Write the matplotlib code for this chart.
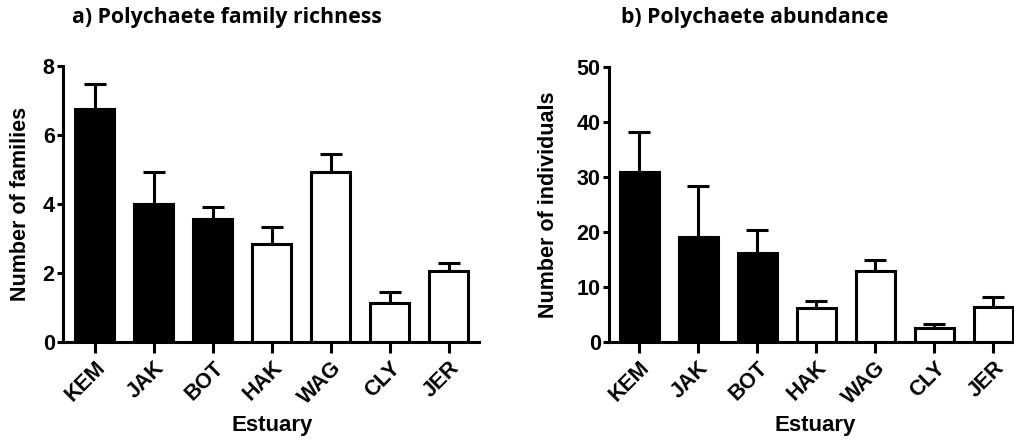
import matplotlib
matplotlib.use('Agg')
import matplotlib.pyplot as plt

estuaries = ["KEM", "JAK", "BOT", "HAK", "WAG", "CLY", "JER"]
bar_colors = ["black", "black", "black", "white", "white", "white", "white"]

# a) family richness: mean and upper error
richness = [6.76, 4.0, 3.57, 2.85, 4.92, 1.14, 2.06]
richness_err = [0.72, 0.92, 0.35, 0.49, 0.54, 0.30, 0.23]

# b) abundance: mean and upper error
abundance = [30.96, 19.15, 16.1, 6.1, 12.97, 2.5, 6.4]
abundance_err = [7.2, 9.2, 4.2, 1.3, 2.0, 0.8, 1.7]

W, H = 1014, 440
plt.rcParams['font.family'] = ['Liberation Sans', 'DejaVu Sans']
plt.rcParams['font.weight'] = 'bold'

fig = plt.figure(figsize=(W / 100, H / 100), dpi=100)

LW = 2.2


def draw_panel(ax, values, errs, ymax, yticks, ylabel, xlim):
    x = list(range(len(estuaries)))
    ax.bar(x, values, width=0.66, color=bar_colors, edgecolor='black',
           linewidth=LW, zorder=2)
    ax.errorbar(x, values, yerr=[[0] * len(errs), errs], fmt='none',
                ecolor='black', elinewidth=LW, capsize=8, capthick=LW, zorder=1)
    ax.set_xlim(*xlim)
    ax.set_ylim(0, ymax)
    ax.set_yticks(yticks)
    ax.set_xticks(x)
    ax.set_xticklabels(estuaries, rotation=45, ha='right', rotation_mode='anchor')
    for s in ('top', 'right'):
        ax.spines[s].set_visible(False)
    for s in ('left', 'bottom'):
        ax.spines[s].set_linewidth(LW)
    ax.tick_params(axis='y', length=4, width=LW, labelsize=15.5, pad=2)
    ax.tick_params(axis='x', length=8, width=LW, labelsize=15.5, pad=3)
    ax.set_ylabel(ylabel, fontsize=15.5, fontweight='bold')
    ax.set_xlabel("Estuary", fontsize=16, fontweight='bold')


# left panel
ax1 = fig.add_axes([63 / W, 1 - 342 / H, (479 - 63) / W, (342 - 66) / H])
draw_panel(ax1, richness, richness_err, 8, [0, 2, 4, 6, 8],
           "Number of families", (-0.54, 6.51))

# right panel (runs off the right edge as in the original)
ax2 = fig.add_axes([609 / W, 1 - 342 / H, 414 / W, (342 - 67) / H])
draw_panel(ax2, abundance, abundance_err, 50, [0, 10, 20, 30, 40, 50],
           "Number of individuals", (-0.51, 6.5))

ax1.yaxis.set_label_coords((20 - 63) / 416, 0.5)
ax2.yaxis.set_label_coords((548 - 609) / 414, 0.5)
ax1.xaxis.set_label_coords((272 - 63) / 416, (342 - 425) / 276)
ax2.xaxis.set_label_coords((815 - 609) / 414, (342 - 425) / 275)
for ax in (ax1, ax2):
    ax.xaxis.label.set_verticalalignment('center')
    ax.yaxis.label.set_verticalalignment('center')

fig.text(227 / W, 1 - 18 / H, "a) Polychaete family richness",
         ha='center', va='center', fontsize=15.3, fontweight='bold',
         family=['Open Sans', 'DejaVu Sans'])
fig.text(755 / W, 1 - 18 / H, "b) Polychaete abundance",
         ha='center', va='center', fontsize=15.3, fontweight='bold',
         family=['Open Sans', 'DejaVu Sans'])

fig.savefig("out.png", dpi=100)
